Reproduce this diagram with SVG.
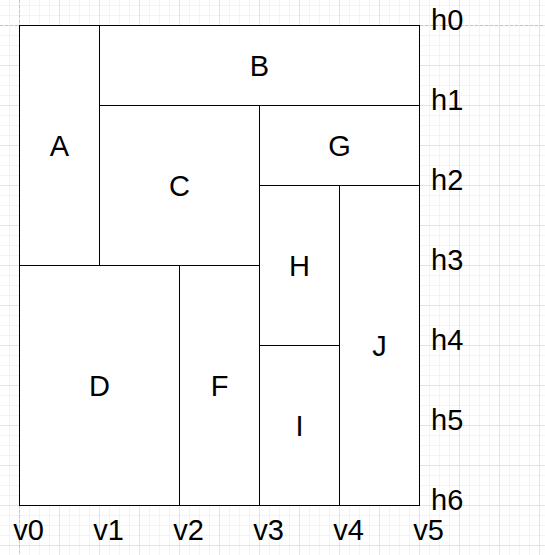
<svg xmlns="http://www.w3.org/2000/svg" width="545" height="555" viewBox="0 0 545 555">
<style>
.cell{fill:#ffffff;stroke:#000000;stroke-width:1}
.lbl{font-family:"Liberation Sans",Arial,sans-serif;font-size:29px;fill:#000000;text-anchor:middle}
.ax{font-family:"Liberation Sans",Arial,sans-serif;font-size:29px;fill:#000000}
.guide{stroke:#c4c4c4;stroke-width:1;stroke-dasharray:3 2;fill:none}
</style>
<defs>
<pattern id="grid" patternUnits="userSpaceOnUse" x="19" y="25" width="40" height="40">
<rect width="40" height="40" fill="#ffffff"/>
<path d="M10.5 0V40M20.5 0V40M30.5 0V40M0 10.5H40M0 20.5H40M0 30.5H40" stroke="#f3f3f3" stroke-width="1"/>
<path d="M0.5 0V40M0 0.5H40" stroke="#e3e3e3" stroke-width="1"/>
</pattern>
</defs>
<rect x="0" y="0" width="545" height="555" fill="url(#grid)"/>
<g id="guides">
<line class="guide" x1="19.5" y1="0" x2="19.5" y2="555"/>
<line class="guide" x1="0" y1="25.5" x2="545" y2="25.5"/>
</g>
<g id="connectors"></g>
<g id="A"><rect class="cell" x="19.5" y="25.5" width="80" height="240"/><text class="lbl" x="59.5" y="156">A</text></g>
<g id="B"><rect class="cell" x="99.5" y="25.5" width="320" height="80"/><text class="lbl" x="259.5" y="76">B</text></g>
<g id="C"><rect class="cell" x="99.5" y="105.5" width="160" height="160"/><text class="lbl" x="179.5" y="196">C</text></g>
<g id="G"><rect class="cell" x="259.5" y="105.5" width="160" height="80"/><text class="lbl" x="339.5" y="156">G</text></g>
<g id="H"><rect class="cell" x="259.5" y="185.5" width="80" height="160"/><text class="lbl" x="299.5" y="276">H</text></g>
<g id="I"><rect class="cell" x="259.5" y="345.5" width="80" height="160"/><text class="lbl" x="299.5" y="436">I</text></g>
<g id="J"><rect class="cell" x="339.5" y="185.5" width="80" height="320"/><text class="lbl" x="379.5" y="356">J</text></g>
<g id="D"><rect class="cell" x="19.5" y="265.5" width="160" height="240"/><text class="lbl" x="99.5" y="396">D</text></g>
<g id="F"><rect class="cell" x="179.5" y="265.5" width="80" height="240"/><text class="lbl" x="219.5" y="396">F</text></g>
<g id="hlabels">
<text class="ax" x="431" y="30">h0</text>
<text class="ax" x="431" y="110">h1</text>
<text class="ax" x="431" y="190">h2</text>
<text class="ax" x="431" y="270">h3</text>
<text class="ax" x="431" y="350">h4</text>
<text class="ax" x="431" y="430">h5</text>
<text class="ax" x="431" y="510">h6</text>
</g>
<g id="vlabels">
<text class="ax" x="28.5" y="540" text-anchor="middle">v0</text>
<text class="ax" x="108.5" y="540" text-anchor="middle">v1</text>
<text class="ax" x="188.5" y="540" text-anchor="middle">v2</text>
<text class="ax" x="268.5" y="540" text-anchor="middle">v3</text>
<text class="ax" x="348.5" y="540" text-anchor="middle">v4</text>
<text class="ax" x="428.5" y="540" text-anchor="middle">v5</text>
</g>
</svg>
